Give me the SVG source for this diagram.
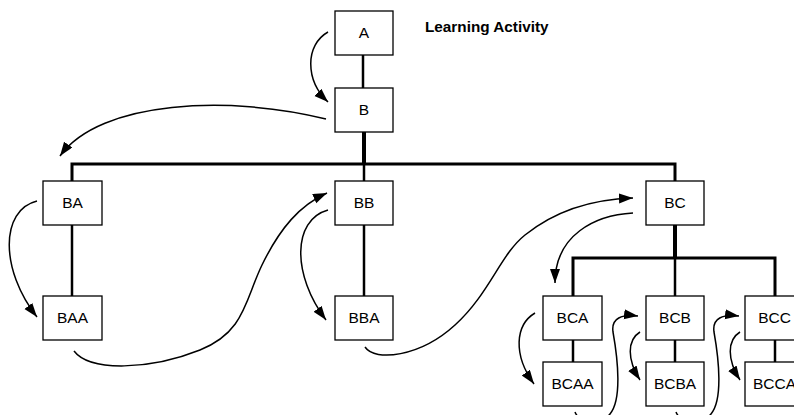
<svg xmlns="http://www.w3.org/2000/svg" width="794" height="415" viewBox="0 0 794 415">
<style>
.box{fill:#fff;stroke:#000;stroke-width:1.3}
.lbl{font-family:"Liberation Sans",Arial,sans-serif;font-size:15.5px;text-anchor:middle;fill:#000}
.title{font-family:"Liberation Sans",Arial,sans-serif;font-size:15.3px;font-weight:bold;fill:#000}
.tree{fill:none;stroke:#000;stroke-width:2.5}
.trunk{fill:none;stroke:#000;stroke-width:4}
.bar{fill:none;stroke:#000;stroke-width:3}
.arr{fill:none;stroke:#000;stroke-width:1.5;marker-end:url(#ah)}
</style>
<defs>
<marker id="ah" markerUnits="userSpaceOnUse" markerWidth="15" markerHeight="11" refX="14" refY="5" orient="auto">
<path d="M0,0 L14,5 L0,10 z" fill="#000"/>
</marker>
</defs>
<rect width="794" height="415" fill="#fff"/>
<g id="connectors">
<line class="tree" x1="363" y1="55" x2="363" y2="88"/>
<line class="trunk" x1="364" y1="132" x2="364" y2="164"/>
<polyline class="bar" points="72,181 72,164 675,164 675,181"/>
<line class="tree" x1="364" y1="164" x2="364" y2="181"/>
<line class="tree" x1="72" y1="225" x2="72" y2="296"/>
<line class="tree" x1="364" y1="225" x2="364" y2="296"/>
<line class="trunk" x1="675" y1="225" x2="675" y2="258"/>
<polyline class="bar" points="573,296 573,258 775,258 775,296"/>
<line class="tree" x1="675" y1="258" x2="675" y2="296"/>
<line class="tree" x1="573" y1="340" x2="573" y2="362"/>
<line class="tree" x1="675" y1="340" x2="675" y2="362"/>
<line class="tree" x1="775" y1="340" x2="775" y2="362"/>
<path class="arr" d="M328,32 C305,45 305,80 328,102"/>
<path class="arr" d="M326,119 C230,95 100,100 60,156"/>
<path class="arr" d="M37,201 C0,210 0,270 37,317"/>
<path class="arr" d="M74,351 C90,372 150,370 200,350 C245,332 245,300 262,265 C280,228 300,205 327,193"/>
<path class="arr" d="M328,210 C292,220 292,275 326,320"/>
<path class="arr" d="M365,347 C375,362 420,357 455,325 C490,293 500,255 525,235 C560,207 600,199 633,198"/>
<path class="arr" d="M633,213 C595,215 555,235 555,283"/>
<path class="arr" d="M535,313 C515,325 513,355 534,384"/>
<path class="arr" d="M575,412 C580,424 600,426 610,414 C622,400 618,360 613,332 C611,318 622,314 638,316"/>
<path class="arr" d="M640,332 C627,340 627,360 640,380"/>
<path class="arr" d="M676,412 C681,424 701,426 711,414 C723,400 719,360 714,332 C712,318 723,314 739,316"/>
<path class="arr" d="M740,332 C727,340 727,360 740,380"/>
</g>
<text class="title" x="425" y="32">Learning Activity</text>
<g id="node-A"><rect class="box" x="335" y="11" width="58" height="44"/><text class="lbl" x="364" y="38">A</text></g>
<g id="node-B"><rect class="box" x="335" y="88" width="58" height="44"/><text class="lbl" x="364" y="115">B</text></g>
<g id="node-BA"><rect class="box" x="43" y="181" width="59" height="44"/><text class="lbl" x="72.5" y="208">BA</text></g>
<g id="node-BAA"><rect class="box" x="43" y="296" width="59" height="44"/><text class="lbl" x="72.5" y="323">BAA</text></g>
<g id="node-BB"><rect class="box" x="335" y="181" width="58" height="44"/><text class="lbl" x="364" y="208">BB</text></g>
<g id="node-BBA"><rect class="box" x="335" y="296" width="58" height="44"/><text class="lbl" x="364" y="323">BBA</text></g>
<g id="node-BC"><rect class="box" x="646" y="181" width="58" height="44"/><text class="lbl" x="675" y="208">BC</text></g>
<g id="node-BCA"><rect class="box" x="543" y="296" width="59" height="44"/><text class="lbl" x="572.5" y="323">BCA</text></g>
<g id="node-BCAA"><rect class="box" x="543" y="362" width="59" height="44"/><text class="lbl" x="572.5" y="389">BCAA</text></g>
<g id="node-BCB"><rect class="box" x="646" y="296" width="58" height="44"/><text class="lbl" x="675" y="323">BCB</text></g>
<g id="node-BCBA"><rect class="box" x="646" y="362" width="58" height="44"/><text class="lbl" x="675" y="389">BCBA</text></g>
<g id="node-BCC"><rect class="box" x="745" y="296" width="59" height="44"/><text class="lbl" x="774.5" y="323">BCC</text></g>
<g id="node-BCCA"><rect class="box" x="745" y="362" width="59" height="44"/><text class="lbl" x="774.5" y="389">BCCA</text></g>
</svg>
